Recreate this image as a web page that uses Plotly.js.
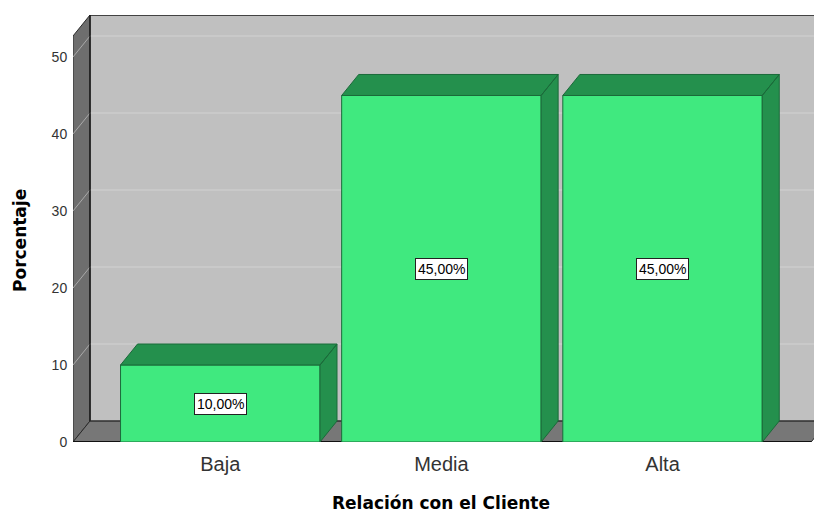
<!DOCTYPE html>
<html>
<head>
<meta charset="utf-8">
<script src="https://cdn.plot.ly/plotly-3.0.1.min.js"></script>
<style>
  html, body { margin: 0; padding: 0; background: #ffffff; }
  #chart { width: 814px; height: 512px; }
</style>
</head>
<body>
<div id="chart"></div>
<script>
// Relación con el Cliente — percentage per level
const categories = ['Baja', 'Media', 'Alta'];
const percentages = [10, 45, 45];
const yTicks = [0, 10, 20, 30, 40, 50];
const xTitle = 'Relación con el Cliente';
const yTitle = 'Porcentaje';

// pseudo-3D geometry (in axis units)
const X_MIN = -0.666, X_MAX = 2.685;   // visible x range
const X_FLOOR = 2.672;                 // front-right corner of the floor
const Y_MAX = 55.45;                   // top of the back wall
const DX = 0.0769, DY = 2.727;         // depth offset of the back plane
const BAR_W = 0.902;

const FRONT = '#40e97f', SHADE = '#24904d', EDGE = '#1b6a3a';
const TITLE_FONT = { family: 'DejaVu Sans, sans-serif', size: 17, color: '#000000', weight: 'bold' };

const xs = categories.map((_, i) => i);

// side and top faces of each bar
const fx = [], fy = [];
xs.forEach((x, i) => {
  const v = percentages[i], l = x - BAR_W / 2, r = x + BAR_W / 2;
  fx.push(r, r + DX, r + DX, r, r, null);
  fy.push(0, DY, v + DY, v, 0, null);
  fx.push(l, l + DX, r + DX, r, l, null);
  fy.push(v, v + DY, v + DY, v, v, null);
});

const faces = {
  type: 'scatter', mode: 'lines', x: fx, y: fy,
  fill: 'toself', fillcolor: SHADE,
  line: { color: EDGE, width: 1 },
  hoverinfo: 'skip', showlegend: false
};

const bars = {
  type: 'bar', x: xs, y: percentages, width: BAR_W,
  marker: { color: FRONT, line: { color: EDGE, width: 1 } },
  hoverinfo: 'skip', showlegend: false
};

// walls, floor and gridlines
const shapes = [];
shapes.push({ type: 'rect', layer: 'below', xref: 'x', yref: 'y',
  x0: X_MIN + DX, x1: X_MAX + 1, y0: DY, y1: Y_MAX,
  fillcolor: '#c0c0c0', line: { width: 0 } });
shapes.push({ type: 'path', layer: 'below', xref: 'x', yref: 'y',
  path: `M${X_MIN},0 L${X_MIN},${Y_MAX - DY} L${X_MIN + DX},${Y_MAX} L${X_MIN + DX},${DY} Z`,
  fillcolor: '#6e6e6e', line: { color: '#2a2a2a', width: 1 } });
shapes.push({ type: 'path', layer: 'below', xref: 'x', yref: 'y',
  path: `M${X_MIN},0 L${X_MIN + DX},${DY} L${X_FLOOR + DX},${DY} L${X_FLOOR},0 Z`,
  fillcolor: '#777777', line: { color: '#2a2a2a', width: 1 } });
yTicks.filter(v => v > 0).forEach(v => {
  shapes.push({ type: 'line', layer: 'below', xref: 'x', yref: 'y',
    x0: X_MIN, y0: v, x1: X_MIN + DX, y1: v + DY,
    line: { color: '#a9a9a9', width: 1 } });
  shapes.push({ type: 'line', layer: 'below', xref: 'x', yref: 'y',
    x0: X_MIN + DX, y0: v + DY, x1: X_MAX + 1, y1: v + DY,
    line: { color: '#d2d2d2', width: 1 } });
});
// wall edges
shapes.push({ type: 'line', layer: 'below', xref: 'x', yref: 'y',
  x0: X_MIN + DX, y0: DY, x1: X_MIN + DX, y1: Y_MAX, line: { color: '#1a1a1a', width: 1.5 } });
shapes.push({ type: 'line', layer: 'below', xref: 'x', yref: 'y',
  x0: X_MIN + DX, y0: Y_MAX, x1: X_MAX + 1, y1: Y_MAX, line: { color: '#1a1a1a', width: 1.5 } });
shapes.push({ type: 'line', layer: 'below', xref: 'x', yref: 'y',
  x0: X_MIN + DX, y0: DY, x1: X_MAX + 1, y1: DY, line: { color: '#333333', width: 1 } });
shapes.push({ type: 'line', layer: 'below', xref: 'x', yref: 'y',
  x0: X_MIN, y0: 0, x1: X_FLOOR, y1: 0, line: { color: '#111111', width: 2 } });

// value labels in the middle of each bar
const annotations = xs.map((x, i) => ({
  x: x, y: percentages[i] / 2, xref: 'x', yref: 'y',
  text: percentages[i].toFixed(2).replace('.', ',') + '%',
  showarrow: false,
  font: { family: 'Liberation Sans, Arial, sans-serif', size: 14, color: '#000000' },
  bgcolor: '#ffffff', bordercolor: '#222222', borderwidth: 1, borderpad: 2
}));

// axis titles, placed in pixel terms on the page
annotations.push({
  text: xTitle, xref: 'paper', yref: 'paper', x: (440.5 - 73) / 741, y: 0,
  xanchor: 'center', yanchor: 'middle', yshift: -(503 - 442),
  showarrow: false, font: TITLE_FONT
});
annotations.push({
  text: yTitle, xref: 'paper', yref: 'paper', x: 0, y: (442 - 241) / 427,
  xanchor: 'center', yanchor: 'middle', xshift: -(73 - 20), textangle: -90,
  showarrow: false, font: TITLE_FONT
});

const layout = {
  width: 814, height: 512,
  margin: { l: 73, r: 0, t: 15, b: 70 },
  paper_bgcolor: '#ffffff', plot_bgcolor: '#ffffff',
  showlegend: false,
  xaxis: {
    range: [X_MIN, X_MAX], tickvals: xs, ticktext: categories,
    showgrid: false, zeroline: false, showline: false,
    ticks: 'outside', ticklen: 4, tickcolor: 'rgba(0,0,0,0)',
    tickfont: { family: 'Liberation Sans, Arial, sans-serif', size: 20, color: '#333333' }
  },
  yaxis: {
    range: [0, Y_MAX], tickvals: yTicks,
    showgrid: false, zeroline: false, showline: false,
    ticks: 'outside', ticklen: 2, tickcolor: 'rgba(0,0,0,0)',
    tickfont: { family: 'Liberation Sans, Arial, sans-serif', size: 14, color: '#333333' }
  },
  shapes: shapes,
  annotations: annotations
};

Plotly.newPlot('chart', [bars, faces], layout, { staticPlot: true, displayModeBar: false });
</script>
</body>
</html>
